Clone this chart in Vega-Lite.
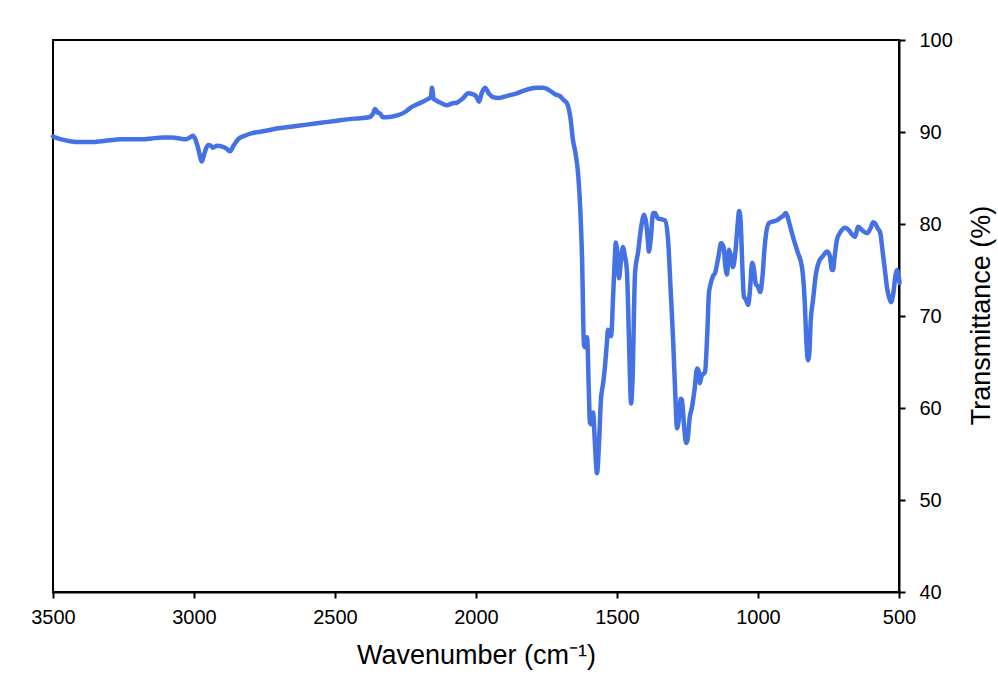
{
  "$schema": "https://vega.github.io/schema/vega-lite/v6.json",
  "width": 846,
  "height": 552,
  "autosize": {"type": "none"},
  "padding": {"left": 53, "top": 40, "right": 99, "bottom": 108},
  "background": "white",
  "config": {
    "font": "Liberation Sans",
    "view": {"stroke": "black", "strokeWidth": 2},
    "axis": {
      "grid": false,
      "domainColor": "black",
      "domainWidth": 2,
      "tickColor": "black",
      "tickWidth": 2,
      "tickSize": 6,
      "labelColor": "black",
      "labelFontSize": 20,
      "labelFlush": false,
      "labelOverlap": false,
      "titleColor": "black",
      "titleFontSize": 27,
      "titleFontWeight": "normal"
    }
  },
  "data": {
    "values": [
      {"wavenumber": 3500, "transmittance": 89.5},
      {"wavenumber": 3470, "transmittance": 89.2},
      {"wavenumber": 3440, "transmittance": 89.0},
      {"wavenumber": 3400, "transmittance": 88.9},
      {"wavenumber": 3360, "transmittance": 88.9},
      {"wavenumber": 3330, "transmittance": 89.0},
      {"wavenumber": 3300, "transmittance": 89.1},
      {"wavenumber": 3260, "transmittance": 89.2},
      {"wavenumber": 3220, "transmittance": 89.2},
      {"wavenumber": 3180, "transmittance": 89.2},
      {"wavenumber": 3150, "transmittance": 89.3},
      {"wavenumber": 3110, "transmittance": 89.4},
      {"wavenumber": 3080, "transmittance": 89.4},
      {"wavenumber": 3050, "transmittance": 89.3},
      {"wavenumber": 3030, "transmittance": 89.2},
      {"wavenumber": 3015, "transmittance": 89.4},
      {"wavenumber": 3004, "transmittance": 89.6},
      {"wavenumber": 2995, "transmittance": 89.2},
      {"wavenumber": 2985, "transmittance": 88.2},
      {"wavenumber": 2972, "transmittance": 86.8},
      {"wavenumber": 2962, "transmittance": 87.8},
      {"wavenumber": 2950, "transmittance": 88.6},
      {"wavenumber": 2940, "transmittance": 88.5},
      {"wavenumber": 2933, "transmittance": 88.3},
      {"wavenumber": 2918, "transmittance": 88.5},
      {"wavenumber": 2900, "transmittance": 88.4},
      {"wavenumber": 2885, "transmittance": 88.2},
      {"wavenumber": 2872, "transmittance": 87.9},
      {"wavenumber": 2860, "transmittance": 88.5},
      {"wavenumber": 2844, "transmittance": 89.2},
      {"wavenumber": 2820, "transmittance": 89.6},
      {"wavenumber": 2790, "transmittance": 89.9},
      {"wavenumber": 2750, "transmittance": 90.1},
      {"wavenumber": 2700, "transmittance": 90.4},
      {"wavenumber": 2650, "transmittance": 90.6},
      {"wavenumber": 2600, "transmittance": 90.8},
      {"wavenumber": 2550, "transmittance": 91.0},
      {"wavenumber": 2500, "transmittance": 91.2},
      {"wavenumber": 2450, "transmittance": 91.4},
      {"wavenumber": 2410, "transmittance": 91.5},
      {"wavenumber": 2380, "transmittance": 91.6},
      {"wavenumber": 2365, "transmittance": 92.0},
      {"wavenumber": 2358, "transmittance": 92.5},
      {"wavenumber": 2348, "transmittance": 92.1},
      {"wavenumber": 2340, "transmittance": 92.0},
      {"wavenumber": 2330, "transmittance": 91.6},
      {"wavenumber": 2316, "transmittance": 91.6},
      {"wavenumber": 2280, "transmittance": 91.8},
      {"wavenumber": 2250, "transmittance": 92.2},
      {"wavenumber": 2234, "transmittance": 92.6},
      {"wavenumber": 2210, "transmittance": 93.0},
      {"wavenumber": 2188, "transmittance": 93.3},
      {"wavenumber": 2170, "transmittance": 93.6},
      {"wavenumber": 2160, "transmittance": 93.8},
      {"wavenumber": 2156, "transmittance": 94.8},
      {"wavenumber": 2150, "transmittance": 93.6},
      {"wavenumber": 2140, "transmittance": 93.4},
      {"wavenumber": 2120, "transmittance": 93.1},
      {"wavenumber": 2103, "transmittance": 92.9},
      {"wavenumber": 2085, "transmittance": 93.1},
      {"wavenumber": 2067, "transmittance": 93.2},
      {"wavenumber": 2045, "transmittance": 93.7},
      {"wavenumber": 2028, "transmittance": 94.2},
      {"wavenumber": 2011, "transmittance": 94.1},
      {"wavenumber": 2000, "transmittance": 93.9},
      {"wavenumber": 1989, "transmittance": 93.3},
      {"wavenumber": 1980, "transmittance": 94.2},
      {"wavenumber": 1968, "transmittance": 94.8},
      {"wavenumber": 1955, "transmittance": 94.2},
      {"wavenumber": 1940, "transmittance": 93.8},
      {"wavenumber": 1920, "transmittance": 93.7},
      {"wavenumber": 1904, "transmittance": 93.8},
      {"wavenumber": 1880, "transmittance": 94.0},
      {"wavenumber": 1855, "transmittance": 94.2},
      {"wavenumber": 1830, "transmittance": 94.5},
      {"wavenumber": 1808, "transmittance": 94.7},
      {"wavenumber": 1785, "transmittance": 94.8},
      {"wavenumber": 1762, "transmittance": 94.8},
      {"wavenumber": 1738, "transmittance": 94.5},
      {"wavenumber": 1720, "transmittance": 94.1},
      {"wavenumber": 1702, "transmittance": 93.9},
      {"wavenumber": 1690, "transmittance": 93.5},
      {"wavenumber": 1677, "transmittance": 93.1},
      {"wavenumber": 1665, "transmittance": 91.5},
      {"wavenumber": 1656, "transmittance": 89.1},
      {"wavenumber": 1649, "transmittance": 88.0},
      {"wavenumber": 1638, "transmittance": 85.5},
      {"wavenumber": 1630, "transmittance": 81.5},
      {"wavenumber": 1624, "transmittance": 76.4},
      {"wavenumber": 1617, "transmittance": 66.8},
      {"wavenumber": 1612, "transmittance": 66.6},
      {"wavenumber": 1606, "transmittance": 67.7},
      {"wavenumber": 1600, "transmittance": 62.0},
      {"wavenumber": 1596, "transmittance": 58.4},
      {"wavenumber": 1590, "transmittance": 58.2},
      {"wavenumber": 1585, "transmittance": 59.5},
      {"wavenumber": 1578, "transmittance": 56.0},
      {"wavenumber": 1571, "transmittance": 52.9},
      {"wavenumber": 1564, "transmittance": 56.0},
      {"wavenumber": 1557, "transmittance": 60.9},
      {"wavenumber": 1550, "transmittance": 62.5},
      {"wavenumber": 1543, "transmittance": 64.4},
      {"wavenumber": 1536, "transmittance": 67.0},
      {"wavenumber": 1532, "transmittance": 68.5},
      {"wavenumber": 1526, "transmittance": 68.2},
      {"wavenumber": 1521, "transmittance": 67.8},
      {"wavenumber": 1514, "transmittance": 72.0},
      {"wavenumber": 1509, "transmittance": 75.5},
      {"wavenumber": 1504, "transmittance": 78.0},
      {"wavenumber": 1498, "transmittance": 76.5},
      {"wavenumber": 1493, "transmittance": 74.1},
      {"wavenumber": 1486, "transmittance": 76.0},
      {"wavenumber": 1479, "transmittance": 77.5},
      {"wavenumber": 1472, "transmittance": 76.5},
      {"wavenumber": 1465, "transmittance": 75.0},
      {"wavenumber": 1458, "transmittance": 68.0},
      {"wavenumber": 1452, "transmittance": 61.5},
      {"wavenumber": 1450, "transmittance": 60.5},
      {"wavenumber": 1445, "transmittance": 63.0},
      {"wavenumber": 1436, "transmittance": 74.7},
      {"wavenumber": 1425, "transmittance": 77.0},
      {"wavenumber": 1415, "transmittance": 79.5},
      {"wavenumber": 1404, "transmittance": 81.0},
      {"wavenumber": 1396, "transmittance": 80.0},
      {"wavenumber": 1390, "transmittance": 78.0},
      {"wavenumber": 1387, "transmittance": 77.0},
      {"wavenumber": 1380, "transmittance": 78.5},
      {"wavenumber": 1372, "transmittance": 81.2},
      {"wavenumber": 1365, "transmittance": 81.2},
      {"wavenumber": 1355, "transmittance": 80.6},
      {"wavenumber": 1340, "transmittance": 80.5},
      {"wavenumber": 1330, "transmittance": 80.4},
      {"wavenumber": 1319, "transmittance": 78.3},
      {"wavenumber": 1310, "transmittance": 73.0},
      {"wavenumber": 1301, "transmittance": 67.4},
      {"wavenumber": 1294, "transmittance": 62.0},
      {"wavenumber": 1287, "transmittance": 57.8},
      {"wavenumber": 1280, "transmittance": 59.0},
      {"wavenumber": 1274, "transmittance": 61.0},
      {"wavenumber": 1270, "transmittance": 60.9},
      {"wavenumber": 1262, "transmittance": 58.0},
      {"wavenumber": 1255, "transmittance": 56.2},
      {"wavenumber": 1250, "transmittance": 56.5},
      {"wavenumber": 1242, "transmittance": 59.0},
      {"wavenumber": 1234, "transmittance": 60.1},
      {"wavenumber": 1225, "transmittance": 62.0},
      {"wavenumber": 1216, "transmittance": 64.3},
      {"wavenumber": 1210, "transmittance": 64.0},
      {"wavenumber": 1206, "transmittance": 62.7},
      {"wavenumber": 1200, "transmittance": 63.5},
      {"wavenumber": 1188, "transmittance": 63.9},
      {"wavenumber": 1180, "transmittance": 68.0},
      {"wavenumber": 1174, "transmittance": 72.5},
      {"wavenumber": 1170, "transmittance": 73.2},
      {"wavenumber": 1160, "transmittance": 74.3},
      {"wavenumber": 1152, "transmittance": 74.7},
      {"wavenumber": 1140, "transmittance": 76.5},
      {"wavenumber": 1131, "transmittance": 77.9},
      {"wavenumber": 1122, "transmittance": 77.5},
      {"wavenumber": 1116, "transmittance": 75.5},
      {"wavenumber": 1110, "transmittance": 74.5},
      {"wavenumber": 1103, "transmittance": 77.2},
      {"wavenumber": 1096, "transmittance": 76.5},
      {"wavenumber": 1089, "transmittance": 75.3},
      {"wavenumber": 1080, "transmittance": 77.0},
      {"wavenumber": 1072, "transmittance": 80.0},
      {"wavenumber": 1067, "transmittance": 81.4},
      {"wavenumber": 1062, "transmittance": 80.5},
      {"wavenumber": 1055, "transmittance": 75.0},
      {"wavenumber": 1050, "transmittance": 72.1},
      {"wavenumber": 1043, "transmittance": 71.8},
      {"wavenumber": 1035, "transmittance": 71.2},
      {"wavenumber": 1028, "transmittance": 73.0},
      {"wavenumber": 1021, "transmittance": 75.8},
      {"wavenumber": 1014, "transmittance": 75.0},
      {"wavenumber": 1008, "transmittance": 73.5},
      {"wavenumber": 1000, "transmittance": 73.2},
      {"wavenumber": 992, "transmittance": 72.6},
      {"wavenumber": 985, "transmittance": 74.0},
      {"wavenumber": 975, "transmittance": 78.0},
      {"wavenumber": 961, "transmittance": 80.1},
      {"wavenumber": 945, "transmittance": 80.3},
      {"wavenumber": 933, "transmittance": 80.4},
      {"wavenumber": 920, "transmittance": 80.7},
      {"wavenumber": 910, "transmittance": 80.9},
      {"wavenumber": 901, "transmittance": 81.2},
      {"wavenumber": 890, "transmittance": 80.2},
      {"wavenumber": 876, "transmittance": 78.6},
      {"wavenumber": 860, "transmittance": 77.0},
      {"wavenumber": 844, "transmittance": 75.3},
      {"wavenumber": 835, "transmittance": 72.0},
      {"wavenumber": 828, "transmittance": 67.0},
      {"wavenumber": 823, "transmittance": 65.2},
      {"wavenumber": 818, "transmittance": 66.0},
      {"wavenumber": 813, "transmittance": 69.5},
      {"wavenumber": 805, "transmittance": 71.7},
      {"wavenumber": 795, "transmittance": 74.5},
      {"wavenumber": 784, "transmittance": 75.9},
      {"wavenumber": 770, "transmittance": 76.5},
      {"wavenumber": 755, "transmittance": 77.0},
      {"wavenumber": 745, "transmittance": 76.5},
      {"wavenumber": 738, "transmittance": 75.0},
      {"wavenumber": 734, "transmittance": 75.0},
      {"wavenumber": 728, "transmittance": 76.5},
      {"wavenumber": 720, "transmittance": 78.3},
      {"wavenumber": 706, "transmittance": 79.2},
      {"wavenumber": 692, "transmittance": 79.6},
      {"wavenumber": 680, "transmittance": 79.4},
      {"wavenumber": 670, "transmittance": 79.0},
      {"wavenumber": 656, "transmittance": 78.6},
      {"wavenumber": 650, "transmittance": 79.2},
      {"wavenumber": 645, "transmittance": 79.7},
      {"wavenumber": 630, "transmittance": 79.3},
      {"wavenumber": 613, "transmittance": 79.0},
      {"wavenumber": 600, "transmittance": 79.6},
      {"wavenumber": 592, "transmittance": 80.2},
      {"wavenumber": 585, "transmittance": 80.1},
      {"wavenumber": 575, "transmittance": 79.5},
      {"wavenumber": 567, "transmittance": 79.1},
      {"wavenumber": 558, "transmittance": 77.0},
      {"wavenumber": 550, "transmittance": 75.0},
      {"wavenumber": 543, "transmittance": 73.2},
      {"wavenumber": 535, "transmittance": 72.0},
      {"wavenumber": 528, "transmittance": 71.5},
      {"wavenumber": 520, "transmittance": 72.5},
      {"wavenumber": 512, "transmittance": 74.5},
      {"wavenumber": 507, "transmittance": 75.0},
      {"wavenumber": 502, "transmittance": 74.5},
      {"wavenumber": 498, "transmittance": 73.6}
    ]
  },
  "mark": {
    "type": "line",
    "color": "#4472E4",
    "strokeWidth": 4.5,
    "strokeCap": "round",
    "strokeJoin": "round",
    "interpolate": "monotone",
    "clip": false
  },
  "encoding": {
    "x": {
      "field": "wavenumber",
      "type": "quantitative",
      "sort": null,
      "scale": {"domain": [500, 3500], "reverse": true, "nice": false, "zero": false},
      "axis": {
        "title": "Wavenumber (cm⁻¹)",
        "values": [3500, 3000, 2500, 2000, 1500, 1000, 500],
        "format": "d",
        "labelPadding": 9,
        "titlePadding": 15
      }
    },
    "y": {
      "field": "transmittance",
      "type": "quantitative",
      "scale": {"domain": [40, 100], "nice": false, "zero": false},
      "axis": {
        "orient": "right",
        "title": "Transmittance (%)",
        "titleAngle": 270,
        "titleX": 82,
        "titleY": 275,
        "titleAlign": "center",
        "titleBaseline": "middle",
        "values": [40, 50, 60, 70, 80, 90, 100],
        "labelPadding": 14
      }
    }
  }
}
